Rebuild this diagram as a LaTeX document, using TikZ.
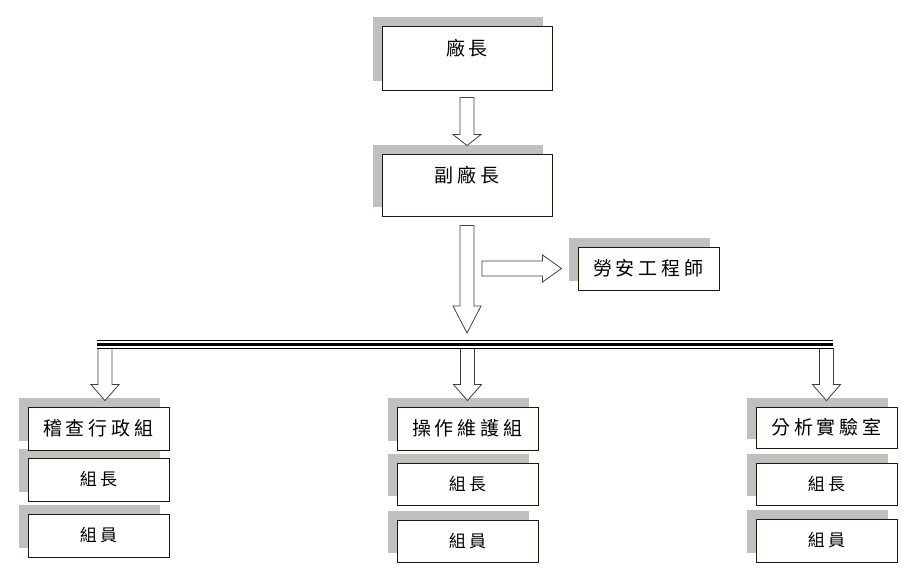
\documentclass[tikz,border=0pt]{standalone}
\usepackage{fontspec}
\usepackage{tikz}
\usetikzlibrary{calc}
\newfontfamily\cjkBig[LetterSpace=21]{Noto Sans CJK TC}
\newfontfamily\cjkSmall[LetterSpace=18]{Noto Sans CJK TC}
\newcommand{\bigText}{\cjkBig\fontsize{19}{19}\selectfont}
\newcommand{\smallText}{\cjkSmall\fontsize{17}{17}\selectfont}
\definecolor{shadowGray}{RGB}{192,192,192}
\definecolor{boxLine}{RGB}{30,26,8}
\pgfkeys{
 /orgBox/.is family, /orgBox,
 w/.estore in = \obW,
 h/.estore in = \obH,
 dy/.estore in = \obDY,
 t/.store in = \obT,
 f/.store in = \obF,
 name/.estore in = \obName,
 default/.style = 
  {w=141, h=43, dy=0, t={}, f=\bigText, name=defaultbox}
}
\newcommand{\orgBox}[2][]{
    \pgfkeys{/orgBox, default, #1}%
    \fill[shadowGray] ($#2 + (-9, -9)$) rectangle ++(\obW, \obH);
    \node[orgbox, minimum width=\obW pt, minimum height=\obH pt] (\obName) at ($#2 + (\obW/2, \obH/2)$) {};
    \node[font=\obF, inner sep=0pt] (\obName_t) at ($(\obName.center) + (0, \obDY)$) {\obT};
}
\newcommand{\downArrow}[3]{
    \draw[blockarrow] ($(#1) + (-7, 0)$) -- ($(#2) + (-7, -#3)$) -- ($(#2) + (-14, -#3)$) -- (#2)
        -- ($(#2) + (14, -#3)$) -- ($(#2) + (7, -#3)$) -- ($(#1) + (7, 0)$) -- cycle;
}
\newcommand{\rightArrow}[3]{
    \draw[blockarrow] ($(#1) + (0, -7.5)$) -- ($(#2) + (-#3, -7.5)$) -- ($(#2) + (-#3, -13.5)$) -- (#2)
        -- ($(#2) + (-#3, 13.5)$) -- ($(#2) + (-#3, 7.5)$) -- ($(#1) + (0, 7.5)$) -- cycle;
}

\begin{document}
\begin{tikzpicture}[x=1pt, y=-1pt,
    orgbox/.style={draw=boxLine, fill=white, line width=0.9pt, inner sep=0pt},
    blockarrow/.style={draw=black!75, fill=white, line width=0.8pt, line join=miter}]
    \useasboundingbox (0, 0) rectangle (910, 577);
    \orgBox[name=chief, w=170, h=64, dy=-10, t=廠長]{(382, 26)}
    \orgBox[name=vice, w=170, h=62, dy=-10, t=副廠長]{(382, 154)}
    \orgBox[name=safety, t=勞安工程師]{(578, 247)}

    \orgBox[name=admM, f=\smallText, t=組員]{(28, 514)}
    \orgBox[name=admL, f=\smallText, t=組長]{(28, 458)}
    \orgBox[name=adm, t=稽查行政組]{(28, 407)}
    \orgBox[name=opsM, h=42, f=\smallText, t=組員]{(397, 520)}
    \orgBox[name=opsL, h=42, f=\smallText, t=組長]{(397, 463)}
    \orgBox[name=ops, t=操作維護組]{(397, 407)}
    \orgBox[name=labM, f=\smallText, t=組員]{(756, 519)}
    \orgBox[name=labL, h=42, f=\smallText, t=組長]{(756, 463)}
    \orgBox[name=lab, h=41, t=分析實驗室]{(756, 407)}

    \coordinate (busL) at (97, 344.5);
    \coordinate (busR) at (833, 344.5);
    \coordinate (chiefOut) at ($(chief.south) + (0, 7)$);
    \coordinate (viceIn) at ($(vice.north) + (0, -8)$);
    \coordinate (viceOut) at ($(vice.south) + (0, 9)$);
    \coordinate (busIn) at ($(viceOut |- busL) + (0, -11.5)$);
    \coordinate (safetyFrom) at ($(viceOut |- safety.west) + (15, 0)$);
    \coordinate (safetyIn) at ($(safety.west) + (-16, 0)$);
    \coordinate (admIn) at ($(adm.north) + (6.5, -6)$);
    \coordinate (opsIn) at ($(ops.north) + (0, -6)$);
    \coordinate (labIn) at ($(lab.north) + (0, -6)$);
    \coordinate (admFrom) at ($(admIn |- busL) + (0, 4)$);
    \coordinate (opsFrom) at ($(opsIn |- busL) + (0, 4)$);
    \coordinate (labFrom) at ($(labIn |- busL) + (0, 4)$);

    \downArrow{chiefOut}{viceIn}{11}
    \downArrow{viceOut}{busIn}{27}
    \rightArrow{safetyFrom}{safetyIn}{19}
    \downArrow{admFrom}{admIn}{16}
    \downArrow{opsFrom}{opsIn}{16}
    \downArrow{labFrom}{labIn}{16}

    \foreach \dy/\lw in {-4/1, 0/3, 4.2/1}
        \draw[line width=\lw pt] ($(busL) + (0, \dy)$) -- ($(busR) + (0, \dy)$);
\end{tikzpicture}
\end{document}
